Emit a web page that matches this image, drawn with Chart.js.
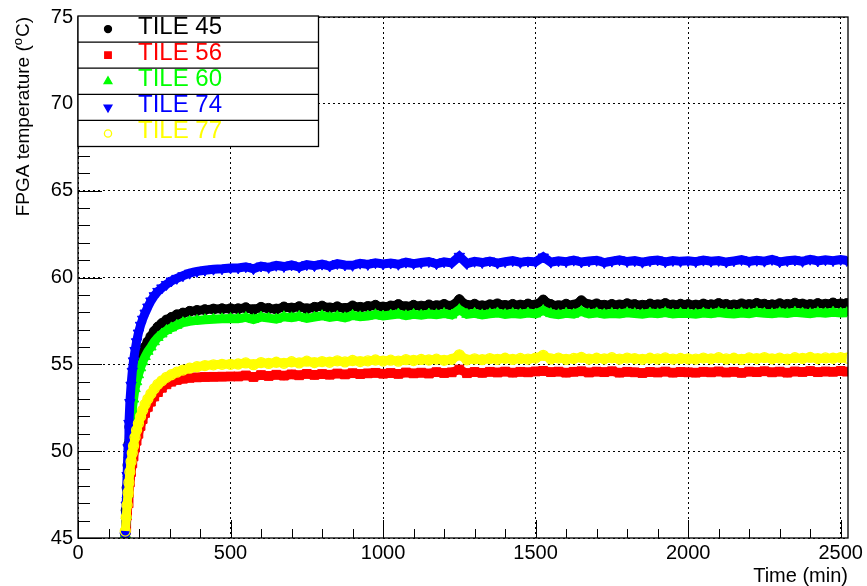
<!DOCTYPE html>
<html>
<head>
<meta charset="utf-8">
<script src="https://cdn.jsdelivr.net/npm/chart.js@4.4.0/dist/chart.umd.min.js"></script>
<style>
  html, body { margin: 0; padding: 0; background: #fff; }
  #wrap { width: 867px; height: 586px; }
</style>
</head>
<body>
<div id="wrap"><canvas id="chart" width="867" height="586"></canvas></div>
<script>
// ----- Data -----
const timeMin = [
  155,158,161,164,167,170,174,178,182,187,192,198,205,212,220,229,239,250,262,275,290,306,324,344,366,390,416,444,472,500,
  525,550,575,600,625,650,675,700,725,750,775,800,825,850,875,900,925,950,975,1000,
  1025,1050,1075,1100,1125,1150,1175,1200,1225,1250,1275,1300,1325,1350,1375,1400,1425,1450,1475,1500,
  1525,1550,1575,1600,1625,1650,1675,1700,1725,1750,1775,1800,1825,1850,1875,1900,1925,1950,1975,2000,
  2025,2050,2075,2100,2125,2150,2175,2200,2225,2250,2275,2300,2325,2350,2375,2400,2425,2450,2475,2500,2520
];

const tile45 = [
  45.3,46.6,47.9,49.2,50.4,51.4,52.3,53.0,53.6,54.2,54.6,55.0,55.4,55.7,56.0,56.3,56.6,56.9,57.15,57.35,57.55,57.7,57.85,57.95,58.05,58.1,58.15,58.18,58.2,58.2,
  58.20,58.26,58.15,58.28,58.22,58.18,58.30,58.24,58.32,58.20,58.28,58.35,58.25,58.31,58.22,58.36,58.28,58.33,58.40,58.30,
  58.36,58.44,58.32,58.40,58.35,58.42,58.38,58.45,58.36,58.72,58.40,58.46,58.37,58.43,58.48,58.39,58.45,58.41,58.47,58.42,
  58.70,58.44,58.38,58.46,58.41,58.66,58.43,58.48,58.40,58.45,58.42,58.49,58.44,58.40,58.47,58.43,58.50,58.42,58.46,58.44,
  58.41,58.47,58.43,58.50,58.45,58.42,58.48,58.44,58.51,58.46,58.43,58.49,58.45,58.52,58.47,58.44,58.50,58.46,58.53,58.48,58.50
];

const tile56 = [
  45.2,45.6,46.3,47.0,47.6,48.2,48.8,49.3,49.7,50.2,50.6,51.0,51.45,51.85,52.2,52.55,52.85,53.15,53.4,53.65,53.85,54.0,54.1,54.17,54.22,54.25,54.27,54.28,54.29,54.3,
  54.30,54.36,54.27,54.38,54.33,54.40,54.35,54.42,54.37,54.45,54.39,54.44,54.40,54.47,54.42,54.49,54.44,54.48,54.51,54.46,
  54.50,54.45,54.53,54.48,54.52,54.47,54.55,54.50,54.54,54.70,54.49,54.56,54.51,54.57,54.53,54.58,54.52,54.57,54.54,54.59,
  54.62,54.55,54.58,54.52,54.57,54.60,54.53,54.58,54.55,54.60,54.52,54.57,54.54,54.50,54.56,54.53,54.58,54.52,54.56,54.54,
  54.52,54.57,54.54,54.59,54.53,54.57,54.51,54.58,54.55,54.60,54.54,54.58,54.52,54.59,54.56,54.61,54.55,54.59,54.57,54.62,54.58
];

const tile60 = [
  45.2,46.3,47.5,48.7,49.8,50.8,51.7,52.4,53.0,53.6,54.0,54.4,54.8,55.15,55.45,55.75,56.0,56.3,56.55,56.75,56.95,57.1,57.25,57.4,57.48,57.53,57.57,57.6,57.62,57.64,
  57.62,57.70,57.58,57.72,57.66,57.60,57.74,57.68,57.76,57.64,57.72,57.80,57.70,57.76,57.68,57.82,57.74,57.78,57.86,57.78,
  57.84,57.90,57.80,57.88,57.83,57.90,57.86,57.93,57.84,58.15,57.88,57.94,57.85,57.91,57.96,57.87,57.93,57.89,57.95,57.90,
  58.10,57.92,57.86,57.94,57.89,58.05,57.91,57.96,57.88,57.93,57.90,57.97,57.92,57.88,57.95,57.91,57.98,57.90,57.94,57.92,
  57.89,57.95,57.91,57.98,57.93,57.90,57.96,57.92,57.99,57.94,57.91,57.97,57.93,58.00,57.95,57.92,57.98,57.94,58.00,57.95,57.97
];

const tile74 = [
  45.1,46.9,48.6,50.2,51.6,52.8,53.8,54.6,55.2,55.8,56.3,56.8,57.25,57.6,57.95,58.3,58.65,58.95,59.2,59.4,59.6,59.8,59.95,60.1,60.25,60.35,60.42,60.48,60.5,60.55,
  60.55,60.62,60.50,60.66,60.58,60.70,60.63,60.72,60.60,60.74,60.68,60.77,60.66,60.80,60.72,60.70,60.82,60.75,60.85,60.78,
  60.83,60.76,60.88,60.80,60.86,60.92,60.79,60.90,60.84,61.22,60.80,60.93,60.86,60.95,60.83,60.91,60.97,60.87,60.94,60.90,
  61.18,60.88,60.96,60.91,61.00,60.89,60.95,60.99,60.86,60.94,61.02,60.92,60.97,60.88,60.96,61.01,60.90,60.98,60.93,60.97,
  60.91,61.00,60.94,60.98,60.89,60.96,61.03,60.92,60.99,60.94,61.04,60.90,60.97,61.01,60.93,61.05,60.95,61.02,60.97,61.04,60.98
];

const tile77 = [
  45.4,46.2,46.9,47.6,48.2,48.8,49.4,49.9,50.3,50.8,51.2,51.6,52.0,52.35,52.7,53.0,53.3,53.6,53.85,54.05,54.25,54.4,54.55,54.67,54.78,54.86,54.93,54.97,55.0,55.0,
  55.02,55.08,54.98,55.10,55.05,55.12,55.06,55.15,55.08,55.18,55.10,55.16,55.12,55.20,55.14,55.22,55.16,55.20,55.25,55.19,
  55.24,55.18,55.27,55.22,55.28,55.25,55.30,55.23,55.29,55.55,55.26,55.32,55.27,55.33,55.29,55.35,55.28,55.34,55.30,55.36,
  55.52,55.31,55.36,55.29,55.34,55.40,55.30,55.35,55.32,55.38,55.30,55.36,55.33,55.29,55.35,55.31,55.37,55.30,55.34,55.32,
  55.30,55.36,55.32,55.38,55.31,55.35,55.29,55.37,55.33,55.39,55.32,55.36,55.30,55.38,55.34,55.40,55.33,55.37,55.35,55.39,55.36
];

const seriesNames  = ['TILE 45', 'TILE 56', 'TILE 60', 'TILE 74', 'TILE 77'];
const seriesColors = ['#000000', '#ff0000', '#00ff00', '#0000ff', '#ffff00'];

// axis ticks
const xTicks = [0, 500, 1000, 1500, 2000, 2500];
const xMinorTicks = [100,200,300,400,600,700,800,900,1100,1200,1300,1400,1600,1700,1800,1900,2100,2200,2300,2400];
const yTicks = [45, 50, 55, 60, 65, 70, 75];
const yMinorTicks = [46,47,48,49,51,52,53,54,56,57,58,59,61,62,63,64,66,67,68,69,71,72,73,74];

const FONT = '"Liberation Sans", Arial, Helvetica, sans-serif';

// ----- marker styles (legend uses the smaller size) -----
const markers = [
  { pointStyle: 'circle',   radius: 5,   legendRadius: 3.5, rotation: 0,   hollow: false },
  { pointStyle: 'rect',     radius: 6.2, legendRadius: 4.6, rotation: 0,   hollow: false },
  { pointStyle: 'triangle', radius: 6,   legendRadius: 4.5, rotation: 0,   hollow: false },
  { pointStyle: 'triangle', radius: 6,   legendRadius: 4.5, rotation: 180, hollow: false },
  { pointStyle: 'circle',   radius: 5,   legendRadius: 3.6, rotation: 0,   hollow: true  }
];
const seriesValues = [tile45, tile56, tile60, tile74, tile77];
const drawOrder = [5, 4, 3, 2, 1];   // yellow on top, black underneath

const datasets = seriesValues.map((vals, i) => ({
  label: seriesNames[i],
  data: timeMin.map((t, k) => ({ x: t, y: vals[k] })),
  showLine: true,
  borderColor: seriesColors[i],
  borderWidth: 9,
  pointStyle: markers[i].pointStyle,
  pointRotation: markers[i].rotation,
  pointRadius: markers[i].radius,
  pointHoverRadius: markers[i].radius,
  pointBorderWidth: markers[i].hollow ? 1.3 : 1,
  pointBorderColor: seriesColors[i],
  pointBackgroundColor: markers[i].hollow ? 'rgba(0,0,0,0)' : seriesColors[i],
  order: drawOrder[i]
}));

// ----- frame, ticks, titles, legend (ROOT style) -----
const rootDecor = {
  id: 'rootDecor',
  afterDraw(chart) {
    const { ctx, chartArea: a, scales: { x, y } } = chart;
    ctx.save();
    ctx.strokeStyle = '#000';
    ctx.fillStyle = '#000';

    // ticks
    ctx.lineWidth = 1;
    ctx.beginPath();
    xTicks.forEach(v => { const px = Math.round(x.getPixelForValue(v)) + 0.5; ctx.moveTo(px, a.bottom); ctx.lineTo(px, a.bottom - 18); });
    xMinorTicks.forEach(v => { const px = Math.round(x.getPixelForValue(v)) + 0.5; ctx.moveTo(px, a.bottom); ctx.lineTo(px, a.bottom - 9); });
    yTicks.forEach(v => { const py = Math.round(y.getPixelForValue(v)) + 0.5; ctx.moveTo(a.left, py); ctx.lineTo(a.left + 24, py); });
    yMinorTicks.forEach(v => { const py = Math.round(y.getPixelForValue(v)) + 0.5; ctx.moveTo(a.left, py); ctx.lineTo(a.left + 12, py); });
    ctx.stroke();

    // frame
    ctx.lineWidth = 1.3;
    ctx.strokeRect(a.left, a.top, a.right - a.left, a.bottom - a.top);

    // x title
    ctx.font = '20px ' + FONT;
    ctx.textAlign = 'right';
    ctx.textBaseline = 'alphabetic';
    ctx.fillText('Time (min)', a.right, 582);

    // y title with superscript o
    ctx.save();
    ctx.translate(29, a.top);
    ctx.rotate(-Math.PI / 2);
    ctx.textAlign = 'left';
    const big = '19px ' + FONT, small = '13px ' + FONT;
    ctx.font = big;
    const w1 = ctx.measureText('FPGA temperature (').width;
    const w3 = ctx.measureText('C)').width;
    ctx.font = small;
    const w2 = ctx.measureText('o').width;
    const x0 = -(w1 + w2 + w3 + 1);
    ctx.font = big;  ctx.fillText('FPGA temperature (', x0, 0);
    ctx.font = small; ctx.fillText('o', x0 + w1, -7);
    ctx.font = big;  ctx.fillText('C)', x0 + w1 + w2 + 1, 0);
    ctx.restore();

    // legend box
    const lx = 78, ly = 16, lw = 240.5, rowH = 26.1;
    ctx.fillStyle = '#fff';
    ctx.fillRect(lx, ly, lw, rowH * 5);
    ctx.lineWidth = 1.3;
    ctx.strokeStyle = '#000';
    ctx.strokeRect(lx, ly, lw, rowH * 5);
    ctx.beginPath();
    for (let i = 1; i < 5; i++) { ctx.moveTo(lx, ly + rowH * i); ctx.lineTo(lx + lw, ly + rowH * i); }
    ctx.stroke();

    seriesNames.forEach((name, i) => {
      const cy = ly + rowH * i + rowH / 2;
      ctx.fillStyle = markers[i].hollow ? 'rgba(0,0,0,0)' : seriesColors[i];
      ctx.strokeStyle = seriesColors[i];
      Chart.helpers.drawPoint(ctx, {
        pointStyle: markers[i].pointStyle,
        rotation: markers[i].rotation,
        radius: markers[i].legendRadius,
        borderWidth: markers[i].hollow ? 1.3 : 1
      }, 108, cy);
      ctx.fillStyle = seriesColors[i];
      ctx.font = '24px ' + FONT;
      ctx.textAlign = 'left';
      ctx.textBaseline = 'alphabetic';
      ctx.fillText(name, 138, cy + 5);
    });
    ctx.restore();
  }
};

const ctx = document.getElementById('chart').getContext('2d');
new Chart(ctx, {
  type: 'scatter',
  data: { datasets },
  options: {
    responsive: false,
    devicePixelRatio: 1,
    animation: false,
    events: [],
    layout: { padding: { top: 16, right: 19, left: 0, bottom: 0 } },
    plugins: { legend: { display: false }, tooltip: { enabled: false } },
    scales: {
      x: {
        type: 'linear', min: 0, max: 2524,
        afterBuildTicks: s => { s.ticks = xTicks.map(v => ({ value: v })); },
        afterFit: s => { s.height = 48; },
        ticks: { color: '#000', font: { family: FONT, size: 20 }, padding: 3, maxRotation: 0, autoSkip: false, callback: v => String(v) },
        grid: { color: '#000', lineWidth: 1, drawTicks: false },
        border: { display: false, dash: [2, 3] }
      },
      y: {
        type: 'linear', min: 45, max: 75,
        afterBuildTicks: s => { s.ticks = yTicks.map(v => ({ value: v })); },
        afterFit: s => { s.width = 78; },
        ticks: { color: '#000', font: { family: FONT, size: 20 }, padding: 5, autoSkip: false, callback: v => String(v) },
        grid: { color: '#000', lineWidth: 1, drawTicks: false },
        border: { display: false, dash: [2, 3] }
      }
    }
  },
  plugins: [rootDecor]
});
</script>
</body>
</html>
